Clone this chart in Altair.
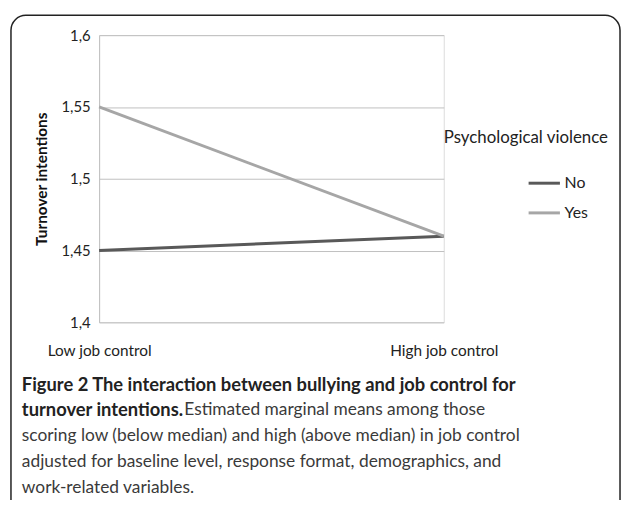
import altair as alt
import pandas as pd

# ---- data ----
categories = ["Low job control", "High job control"]
series = ["No", "Yes"]
no_values = [1.45, 1.46]
yes_values = [1.55, 1.46]
y_ticks = [1.4, 1.45, 1.5, 1.55, 1.6]
colors = ["#595959", "#a6a6a6"]
y_title = "Turnover intentions"
legend_title = "Psychological violence"
caption_bold_1 = "Figure 2 The interaction between bullying and job control for"
caption_bold_2 = "turnover intentions."
caption_normal_2 = "Estimated marginal means among those"
caption_normal_rest = [
    "scoring low (below median) and high (above median) in job control",
    "adjusted for baseline level, response format, demographics, and",
    "work-related variables.",
]

rows = []
for s, vals in zip(series, [no_values, yes_values]):
    for c, v in zip(categories, vals):
        rows.append({"control": c, "violence": s, "value": v})
df = pd.DataFrame(rows)

# ---- layout ----
W, H = 348, 290
PL, PT = 92, 25
TOTAL_W, TOTAL_H = 620, 492
FONT = "Lato"

lines = alt.Chart(df).mark_line(strokeWidth=3, clip=False).encode(
    x=alt.X(
        "control:N",
        sort=categories,
        scale=alt.Scale(type="point", padding=0),
        axis=alt.Axis(
            title=None, labelAngle=0, ticks=False, domain=False, grid=False,
            labelPadding=22, labelFontSize=15.5, labelFont=FONT, labelColor="#222",
            labelFontWeight="normal",
        ),
    ),
    y=alt.Y(
        "value:Q",
        scale=alt.Scale(domain=[1.4, 1.6], nice=False, zero=False),
        axis=alt.Axis(
            values=y_ticks, title=y_title,
            labelExpr="replace(format(datum.value, '.2~f'), '.', ',')",
            ticks=False, domain=True, domainColor="#bfbfbf", domainWidth=1,
            grid=True, gridColor="#bfbfbf", gridWidth=1,
            labelPadding=9, labelFontSize=15, labelFont=FONT, labelColor="#222",
            titleFont=FONT, titleFontSize=15.5, titleFontWeight="bold", titleColor="#111",
            titlePadding=12,
        ),
    ),
    color=alt.Color(
        "violence:N",
        scale=alt.Scale(domain=series, range=colors),
        legend=alt.Legend(
            title=None, orient="none", legendX=432, legendY=132,
            symbolType="stroke", symbolSize=1000, symbolStrokeWidth=3,
            labelFont=FONT, labelFontSize=16, labelColor="#222", labelOffset=3,
            rowPadding=4, padding=0,
        ),
    ),
)

one = pd.DataFrame({"k": [0]})


def text_layer(txt, x, y, size, weight="normal", color="#333"):
    return alt.Chart(one).mark_text(
        align="left", baseline="middle", font=FONT, fontSize=size,
        fontWeight=weight, color=color, clip=False,
    ).encode(x=alt.value(x), y=alt.value(y), text=alt.value(txt))


legend_label = text_layer(legend_title, 348, 104, 17, color="#222")

cap_x = 22 - 8 - PL
cap_y0 = 386 - 8 - PT
step = 26
caption = [
    text_layer(caption_bold_1, cap_x, cap_y0, 18.5, "bold", "#222"),
    text_layer(caption_bold_2, cap_x, cap_y0 + step, 18.5, "bold", "#222"),
    text_layer(caption_normal_2, 186 - 8 - PL, cap_y0 + step, 17.5, "normal", "#3a3a3a"),
]
for i, t in enumerate(caption_normal_rest):
    caption.append(text_layer(t, cap_x, cap_y0 + step * (i + 2), 17.5, "normal", "#3a3a3a"))

frame = alt.Chart(one).mark_rect(
    fill=None, filled=False, stroke="#222", strokeWidth=1.5, cornerRadius=15, clip=False
).encode(
    x=alt.value(11 - 8 - PL), x2=alt.value(TOTAL_W - PL - 2),
    y=alt.value(13 - 8 - PT), y2=alt.value(TOTAL_H + 40),
)

chart = alt.layer(frame, lines, legend_label, *caption).properties(
    width=W, height=H,
    padding={"left": PL, "top": PT, "right": TOTAL_W - W - PL, "bottom": TOTAL_H - H - PT},
    autosize=alt.AutoSizeParams(type="none"),
).configure_view(stroke=None).configure(background="white")

chart.save("out.html", embed_options={"renderer": "svg", "actions": False})
